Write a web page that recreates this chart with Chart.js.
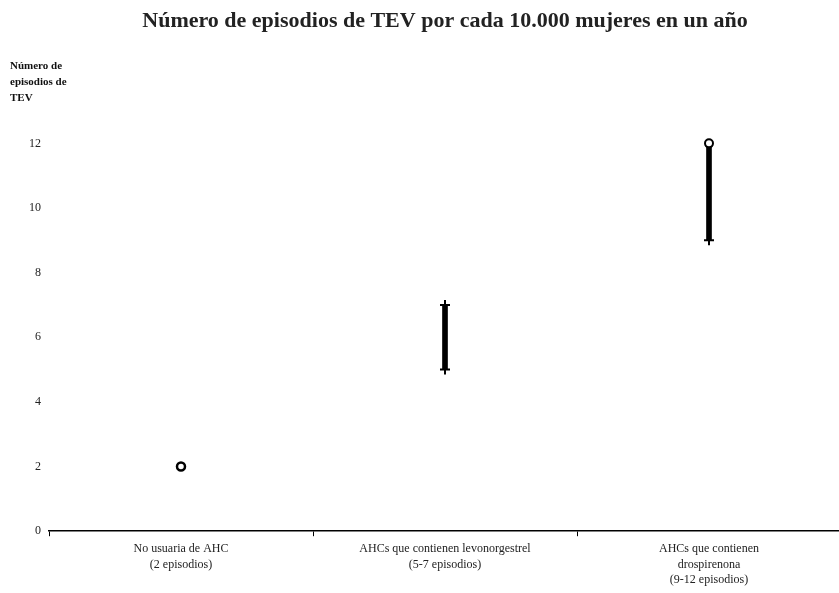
<!DOCTYPE html>
<html>
<head>
<meta charset="utf-8">
<script src="https://cdn.jsdelivr.net/npm/chart.js@4/dist/chart.umd.min.js"></script>
<style>
  html, body { margin: 0; padding: 0; background: #fff; overflow: hidden; }
  body { width: 839px; height: 593px; }
  #wrap { width: 848px; height: 593px; }
</style>
</head>
<body>
<div id="wrap"><canvas id="cjs"></canvas></div>
<script>
// categorias del eje x
const categories = [
    ['No usuaria de AHC', '(2 episodios)'],
    ['AHCs que contienen levonorgestrel', '(5-7 episodios)'],
    ['AHCs que contienen', 'drospirenona', '(9-12 episodios)']
];
const singleValue = [2, null, null];   // punto unico
const rangeLow = [null, 5, 9];
const rangeHigh = [null, 7, 12];
const yTicks = [0, 2, 4, 6, 8, 10, 12];
const yTitle = ['Número de', 'episodios de', 'TEV'];

const serif = '"Liberation Serif", "DejaVu Serif", serif';

// rango flotante de las barras
const ranges = rangeLow.map(function (lo, i) {
    return lo === null ? null : [lo, rangeHigh[i]];
});

const yTitlePlugin = {
    id: 'yTitle',
    afterDraw(chart) {
        const ctx = chart.ctx;
        ctx.save();
        ctx.font = 'bold 11px ' + serif;
        ctx.fillStyle = '#111';
        ctx.textBaseline = 'top';
        yTitle.forEach(function (line, i) {
            ctx.fillText(line, 10, 61 + i * 16);
        });
        ctx.restore();
    }
};

const config = {
    type: 'bar',
    data: {
        labels: categories,
        datasets: [
            {
                type: 'bar',
                data: ranges,
                backgroundColor: '#000',
                barThickness: 5,
                order: 3
            },
            {
                type: 'line',
                data: singleValue,
                showLine: false,
                pointStyle: 'circle',
                pointRadius: 4,
                pointBorderWidth: 2.5,
                pointBorderColor: '#000',
                pointBackgroundColor: '#fff',
                order: 1
            },
            {
                type: 'line',
                data: rangeLow,
                showLine: false,
                pointStyle: 'cross',
                pointRadius: 5,
                pointBorderWidth: 2,
                pointBorderColor: '#000',
                order: 1
            },
            {
                type: 'line',
                data: rangeHigh,
                showLine: false,
                pointStyle: function (c) { return c.dataIndex === 2 ? 'circle' : 'cross'; },
                pointRadius: function (c) { return c.dataIndex === 2 ? 4 : 5; },
                pointBorderWidth: 2,
                pointBorderColor: '#000',
                pointBackgroundColor: '#fff',
                order: 1
            }
        ]
    },
    options: {
        responsive: true,
        maintainAspectRatio: false,
        animation: false,
        layout: { padding: { left: 29, right: 0, top: 8, bottom: 0 } },
        plugins: {
            legend: { display: false },
            tooltip: { enabled: false },
            title: {
                display: true,
                text: 'Número de episodios de TEV por cada 10.000 mujeres en un año',
                color: '#222',
                font: { family: serif, size: 22, weight: 'bold' },
                padding: { top: 0, bottom: 54 },
                fullSize: false
            }
        },
        scales: {
            x: {
                offset: true,
                border: { display: true, color: '#000', width: 1.5 },
                grid: { display: true, drawOnChartArea: false, drawTicks: true, tickLength: 5, color: '#000', offset: true },
                ticks: {
                    color: '#222',
                    font: { family: serif, size: 12, lineHeight: 1.3 },
                    maxRotation: 0,
                    autoSkip: false,
                    padding: 5
                }
            },
            y: {
                min: 0,
                max: 13.7,
                border: { display: false },
                grid: { display: false },
                afterBuildTicks: function (axis) {
                    axis.ticks = yTicks.map(function (v) { return { value: v }; });
                },
                ticks: {
                    color: '#222',
                    font: { family: serif, size: 12 },
                    padding: 0
                }
            }
        }
    },
    plugins: [yTitlePlugin]
};

const myChart = new Chart(document.getElementById('cjs'), config);
</script>
</body>
</html>
